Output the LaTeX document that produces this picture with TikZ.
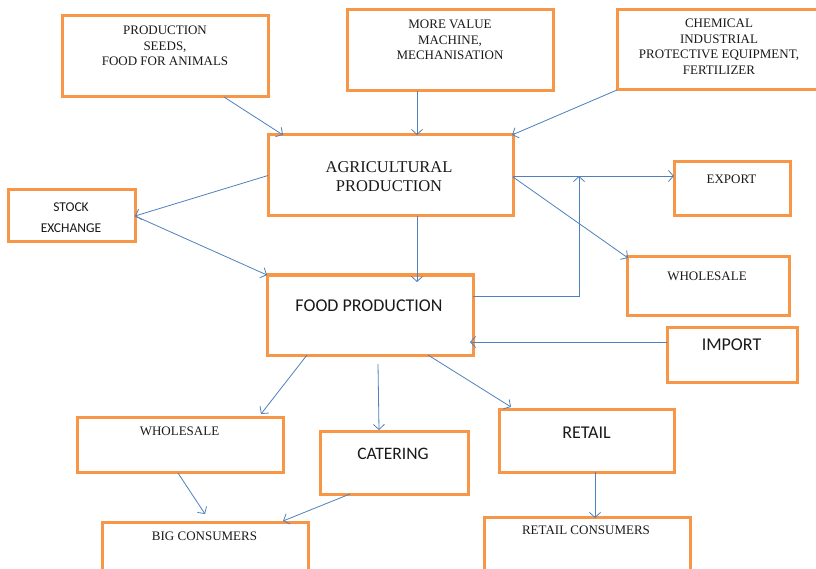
\documentclass[tikz,border=0pt]{standalone}
\usepackage{fontspec}
\setmainfont{Liberation Serif}
\newfontfamily\carl{Carlito}
\usetikzlibrary{arrows.meta,calc}
\definecolor{boxorange}{HTML}{F79646}
\definecolor{arrblue}{HTML}{4F81BD}
\definecolor{txt}{HTML}{1A1A1A}
\begin{document}
\begin{tikzpicture}[x=1pt,y=-1pt,
  box/.style={draw=boxorange,line width=3pt,rectangle,inner sep=0pt,outer sep=0pt},
  serif/.style={font=\fontsize{13}{15.6}\selectfont,align=center,text=txt,inner sep=0pt},
  bigserif/.style={font=\fontsize{16.5}{19}\selectfont,align=center,text=txt,inner sep=0pt},
  sans/.style={font=\carl\fontsize{#1}{21}\selectfont,align=center,text=txt,inner sep=0pt},
  arr/.style={draw=arrblue,line width=0.8pt,-{Straight Barb[length=5pt,width=11pt]}}]
\useasboundingbox (0,0) rectangle (816,569);
\clip (0,0) rectangle (816,569);
\fill[white] (0,0) rectangle (816,569);

% boxes
\node[box,minimum width=206,minimum height=81] (b1) at (165,56.5) {};
\node[box,minimum width=206,minimum height=81] (b2) at (450,50.5) {};
\node[box,minimum width=213,minimum height=80] (b3) at (723.5,50) {};
\node[box,minimum width=245,minimum height=81] (agri) at (390.5,175.5) {};
\node[box,minimum width=127,minimum height=52] (stock) at (71.5,216) {};
\node[box,minimum width=116,minimum height=54] (export) at (732,189) {};
\node[box,minimum width=162,minimum height=58] (wsR) at (708,286) {};
\node[box,minimum width=206,minimum height=80] (food) at (370,315) {};
\node[box,minimum width=130,minimum height=55] (import) at (732,354.5) {};
\node[box,minimum width=206,minimum height=55] (wsL) at (180,444.5) {};
\node[box,minimum width=148,minimum height=63] (cater) at (394,462.5) {};
\node[box,minimum width=175,minimum height=63] (retail) at (586.5,440.5) {};
\node[box,minimum width=206,minimum height=78] (big) at (205,561) {};
\node[box,minimum width=206,minimum height=83] (rcons) at (587,558.5) {};

% texts
\node[serif] (t1) at (165,46) {PRODUCTION\\SEEDS,\\FOOD FOR ANIMALS};
\node[serif] (t2) at (450,40) {MORE VALUE\\MACHINE,\\MECHANISATION};
\node[serif] (t3) at (719,46.5) {CHEMICAL\\INDUSTRIAL\\PROTECTIVE EQUIPMENT,\\FERTILIZER};
\node[bigserif] (tagri) at (389,177) {AGRICULTURAL\\PRODUCTION};
\node[sans=13.5] (tstock) at (71,217.5) {STOCK\\EXCHANGE};
\node[serif] (texport) at (731.5,179) {EXPORT};
\node[serif] (twsR) at (707,276) {WHOLESALE};
\node[sans=18] (tfood) at (369,305.5) {FOOD PRODUCTION};
\node[sans=18] (timport) at (731.5,345) {IMPORT};
\node[serif] (twsL) at (179.5,431.5) {WHOLESALE};
\node[sans=17.5] (tcater) at (393,454) {CATERING};
\node[sans=18] (tretail) at (586.5,432.5) {RETAIL};
\node[serif] (tbig) at (204.5,536.5) {BIG CONSUMERS};
\node[serif] (trcons) at (586,530.5) {RETAIL CONSUMERS};

% connectors
\draw[arr] ($(b1.south west)+(162,0)$) -- ($(agri.north west)+(15,0)$);
\draw[arr] ($(b2.south)+(-33,0)$) -- ($(agri.north)+(26.5,0)$);
\draw[arr] (b3.south west) -- ($(agri.north east)+(-1,0)$);
\draw[arr] (agri.west) -- (stock.east);
\draw[arr] (stock.east) -- (food.north west);
\draw[arr] ($(agri.south)+(26.5,0)$) -- ($(food.north)+(47,7)$);
\draw[arr] ($(agri.east)+(0,0.5)$) -- ($(export.west)+(0,-13)$);
\draw[arr] ($(food.east)+(0,-19)$) -| ($(agri.east)+(66,0.5)$);
\draw[arr] ($(agri.east)+(0,1.5)$) -- ($(wsR.north west)+(1,1)$);
\draw[arr] ($(import.west)+(0,-12.5)$) -- ($(food.east)+(-3,27)$);
\draw[arr] ($(food.south west)+(40,0)$) -- ($(wsL.north east)+(-22,-3)$);
\draw[arr] ($(food.south)+(8,9)$) -- ($(cater.north west)+(59,-1)$);
\draw[arr] ($(food.south west)+(161,0)$) -- ($(retail.north west)+(12,-2)$);
\draw[arr] ($(wsL.south west)+(101,1)$) -- ($(big.north west)+(103,-8)$);
\draw[arr] ($(cater.south west)+(30,0)$) -- ($(big.north east)+(-25,-1)$);
\draw[arr] ($(retail.south)+(8.5,0)$) -- ($(rcons.north)+(8,1)$);
\end{tikzpicture}
\end{document}
